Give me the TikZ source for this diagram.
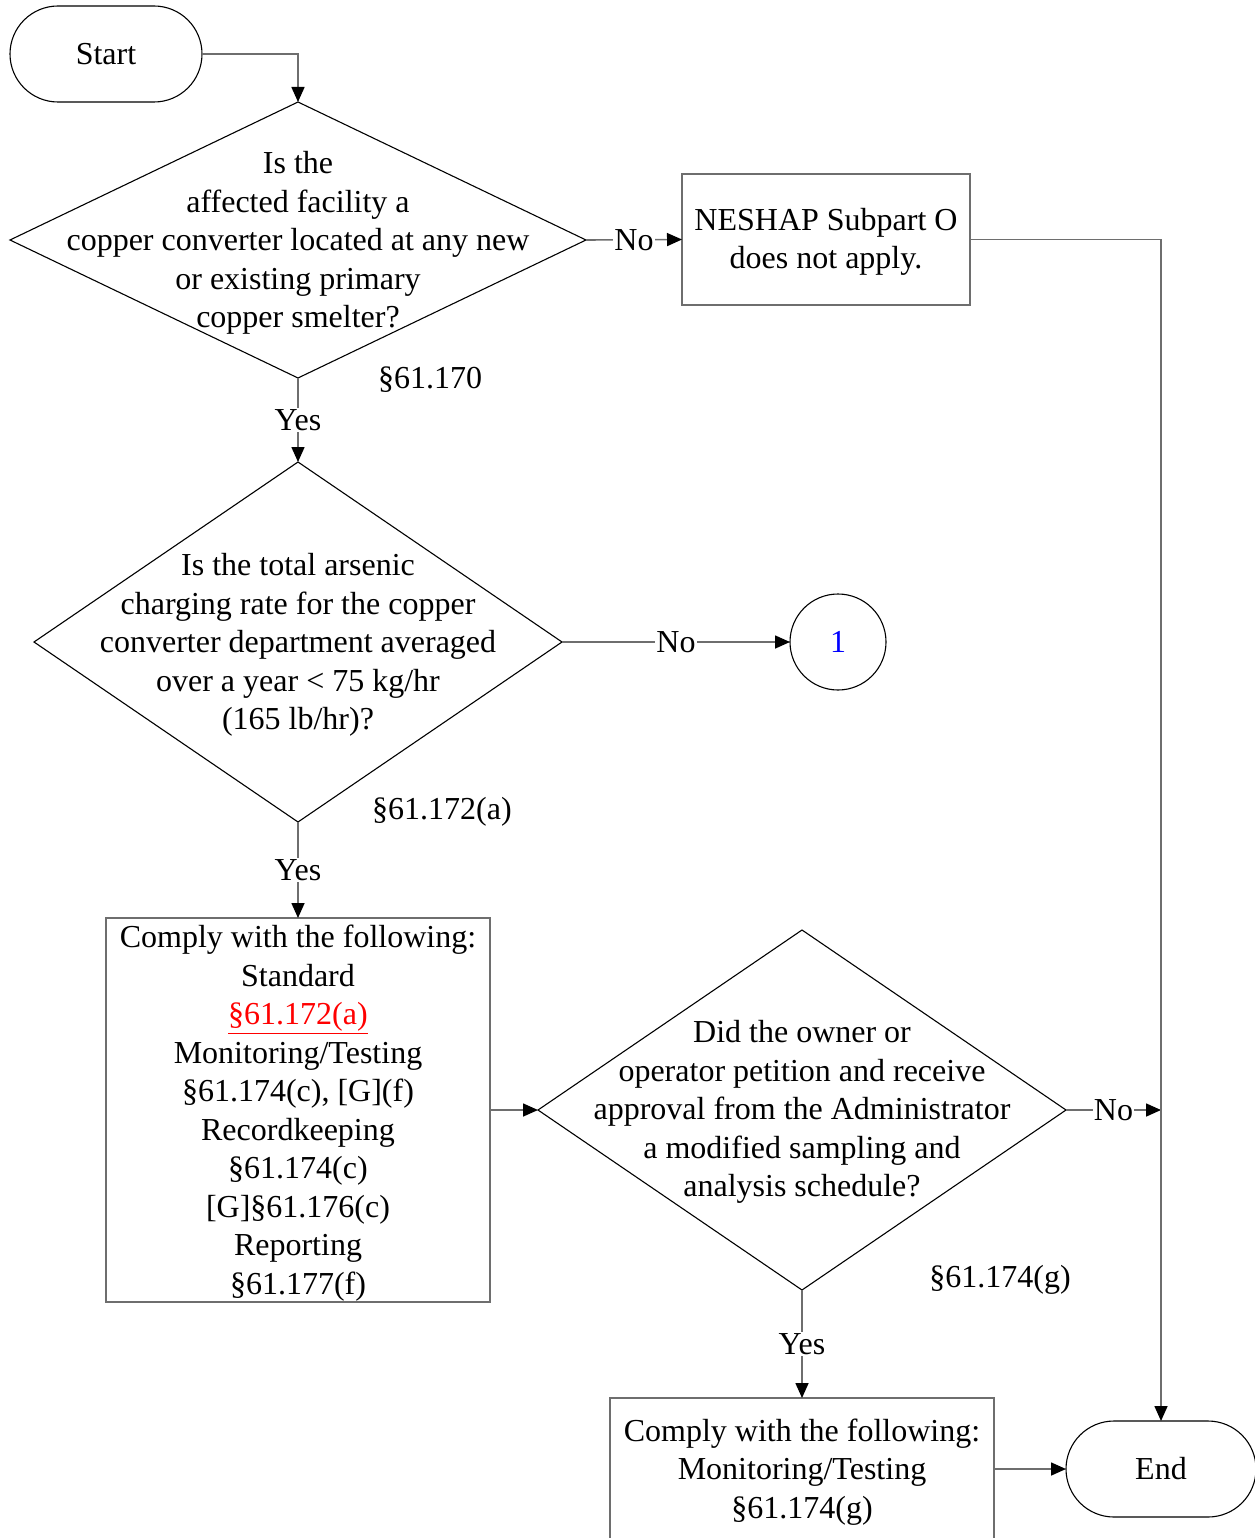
\documentclass[tikz,border=0pt]{standalone}
\usepackage{fontspec}
\setmainfont{Liberation Serif}
\usetikzlibrary{shapes.geometric,arrows.meta}
\definecolor{lngray}{HTML}{6E6E6E}
\begin{document}
\begin{tikzpicture}[x=1pt,y=-1pt,
  every node/.style={font=\fontsize{32}{38.5}\selectfont, inner sep=0pt, outer sep=0pt},
  term/.style={draw=black, line width=1.1pt, rectangle, rounded corners=48pt, minimum width=192pt, minimum height=96pt},
  dec/.style={draw=black, line width=1.1pt, diamond},
  procbox/.style={draw=lngray, line width=1.6pt, rectangle},
  conn/.style={draw=lngray, line width=1.6pt, -{Triangle[length=15pt,width=13pt,color=black]}},
  lab/.style={fill=white, inner sep=1pt},
  txt/.style={align=center}]
\useasboundingbox (0,0) rectangle (1254,1538);

% shapes
\node[term] (start) at (106,54) {Start};
\node[dec, minimum width=576pt, minimum height=276pt] (d1) at (298,240) {};
\node[txt] (d1t) at (298,243) {Is the\\affected facility a\\copper converter located at any new\\or existing primary\\copper smelter?};
\node[procbox, minimum width=288pt, minimum height=131pt] (neshap) at (826,239.5) {};
\node[txt] (neshapt) at (826,242) {NESHAP Subpart O\\does not apply.};

\node[dec, minimum width=528pt, minimum height=360pt] (d2) at (298,642) {};
\node[txt] (d2t) at (298,645) {Is the total arsenic\\charging rate for the copper\\converter department averaged\\over a year < 75 kg/hr\\(165 lb/hr)?};
\node[draw=black, line width=1.1pt, circle, minimum size=96pt] (c1) at (838,642) {\textcolor{blue}{1}};

\node[procbox, minimum width=384pt, minimum height=384pt] (box1) at (298,1110) {};
\node[txt] (box1t) at (298,1113) {Comply with the following:\\Standard\\\textcolor{red}{\underline{§61.172(a)}}\\Monitoring/Testing\\§61.174(c), [G](f)\\Recordkeeping\\§61.174(c)\\{}[G]§61.176(c)\\Reporting\\§61.177(f)};

\node[dec, minimum width=528pt, minimum height=360pt] (d3) at (802,1110) {};
\node[txt] (d3t) at (802,1112) {Did the owner or\\operator petition and receive\\approval from the Administrator\\a modified sampling and\\analysis schedule?};

\node[procbox, minimum width=384pt, minimum height=142pt] (box2) at (802,1469) {};
\node[txt] (box2t) at (802,1472) {Comply with the following:\\Monitoring/Testing\\§61.174(g)};

\node[term, minimum width=190pt] (end) at (1161,1469) {End};

\coordinate (j) at (1161,1110);

% section labels
\node (s1) at (430,380) {§61.170};
\node (s2) at (442,812) {§61.172(a)};
\node (s3) at (1000,1280) {§61.174(g)};

% connectors
\draw[conn] (start.east) -| (d1.north);
\draw[conn] (d1.east) -- node[lab]{No} (neshap.west);
\draw[conn] (d1.south) -- node[lab]{Yes} (d2.north);
\draw[conn] (d2.east) -- node[lab]{No} (c1.west);
\draw[conn] (d2.south) -- node[lab]{Yes} (box1.north);
\draw[conn] (box1.east) -- (d3.west);
\draw[conn] (d3.east) -- node[lab]{No} (j);
\draw[conn] (d3.south) -- node[lab]{Yes} (box2.north);
\draw[conn] (box2.east) -- (end.west);
\draw[conn] (neshap.east) -| (end.north);
\end{tikzpicture}
\end{document}
